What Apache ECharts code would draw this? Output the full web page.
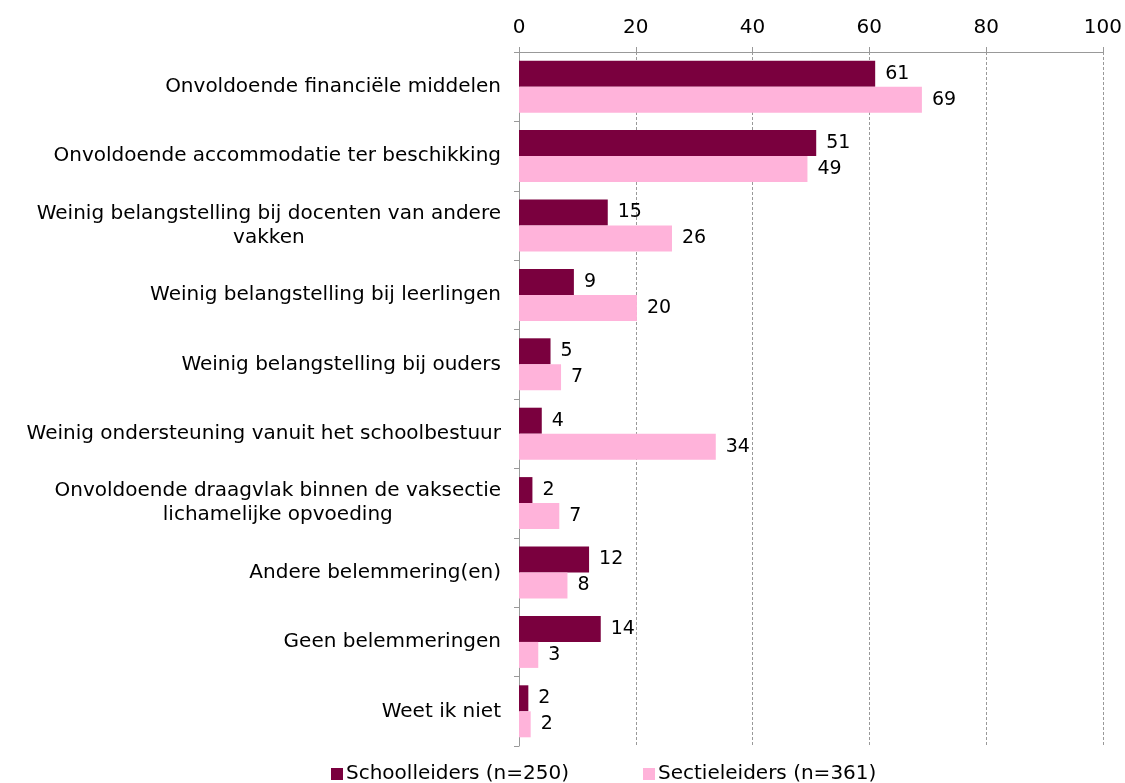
<!DOCTYPE html>
<html>
<head>
<meta charset="utf-8">
<script src="https://cdn.jsdelivr.net/npm/echarts@6/dist/echarts.min.js"></script>
<style>html,body{margin:0;padding:0;background:#fff;}#c{width:1125px;height:783px;}</style>
</head>
<body>
<div id="c"></div>
<script>
const categories = [
  "Onvoldoende financiële middelen",
  "Onvoldoende accommodatie ter beschikking",
  "Weinig belangstelling bij docenten van andere\nvakken",
  "Weinig belangstelling bij leerlingen",
  "Weinig belangstelling bij ouders",
  "Weinig ondersteuning vanuit het schoolbestuur",
  "Onvoldoende draagvlak binnen de vaksectie\nlichamelijke opvoeding",
  "Andere belemmering(en)",
  "Geen belemmeringen",
  "Weet ik niet"
];
const seriesNames = ["Schoolleiders (n=250)", "Sectieleiders (n=361)"];
const schoolleiders = [61, 50.9, 15.2, 9.4, 5.4, 3.9, 2.3, 12.0, 14.0, 1.6];
const sectieleiders = [69, 49.4, 26.2, 20.2, 7.2, 33.7, 6.9, 8.3, 3.3, 2.0];
const xTicks = [0, 20, 40, 60, 80, 100];

const FONT = "DejaVu Sans";
const chart = echarts.init(document.getElementById('c'), null, {renderer: 'canvas'});
const labelCfg = {
  show: true, position: 'right', distance: 10,
  color: '#000', fontFamily: FONT, fontSize: 19,
  formatter: p => String(Math.round(p.value))
};
chart.setOption({
  animation: false,
  backgroundColor: '#fff',
  textStyle: {fontFamily: FONT},
  grid: {left: 519, right: 21, top: 52, bottom: 37, containLabel: false},
  legend: {
    top: 759, left: 326, itemGap: 74, itemWidth: 12, itemHeight: 12, icon: 'rect',
    textStyle: {color: '#000', fontFamily: FONT, fontSize: 20, padding: [0, 0, 0, -2]},
    data: seriesNames
  },
  xAxis: {
    type: 'value', position: 'top', min: xTicks[0], max: xTicks[xTicks.length - 1], interval: 20,
    axisLine: {show: true, lineStyle: {color: '#999', width: 1}},
    axisTick: {show: true, length: 5, lineStyle: {color: '#999'}},
    axisLabel: {color: '#000', fontFamily: FONT, fontSize: 20, margin: 14},
    splitLine: {show: true, lineStyle: {color: '#999', type: [3, 2], width: 1}}
  },
  yAxis: {
    type: 'category', inverse: true, data: categories,
    axisLine: {show: true, lineStyle: {color: '#999', width: 1}},
    axisTick: {show: true, length: 5, lineStyle: {color: '#999'}},
    axisLabel: {
      color: '#000', fontFamily: FONT, fontSize: 20, margin: 18, interval: 0,
      formatter: v => v.indexOf('\n') >= 0 ? v.split('\n').map(s => '{c|' + s + '}').join('\n') : v,
      rich: {c: {align: 'center', color: '#000', fontFamily: FONT, fontSize: 20, lineHeight: 24}}
    }
  },
  series: [
    {name: seriesNames[0], type: 'bar', data: schoolleiders, barWidth: 26, barGap: '0%',
     itemStyle: {color: '#7A003E'}, label: labelCfg},
    {name: seriesNames[1], type: 'bar', data: sectieleiders, barWidth: 26, barGap: '0%',
     itemStyle: {color: '#FFB3DA'}, label: labelCfg}
  ]
});
</script>
</body>
</html>
